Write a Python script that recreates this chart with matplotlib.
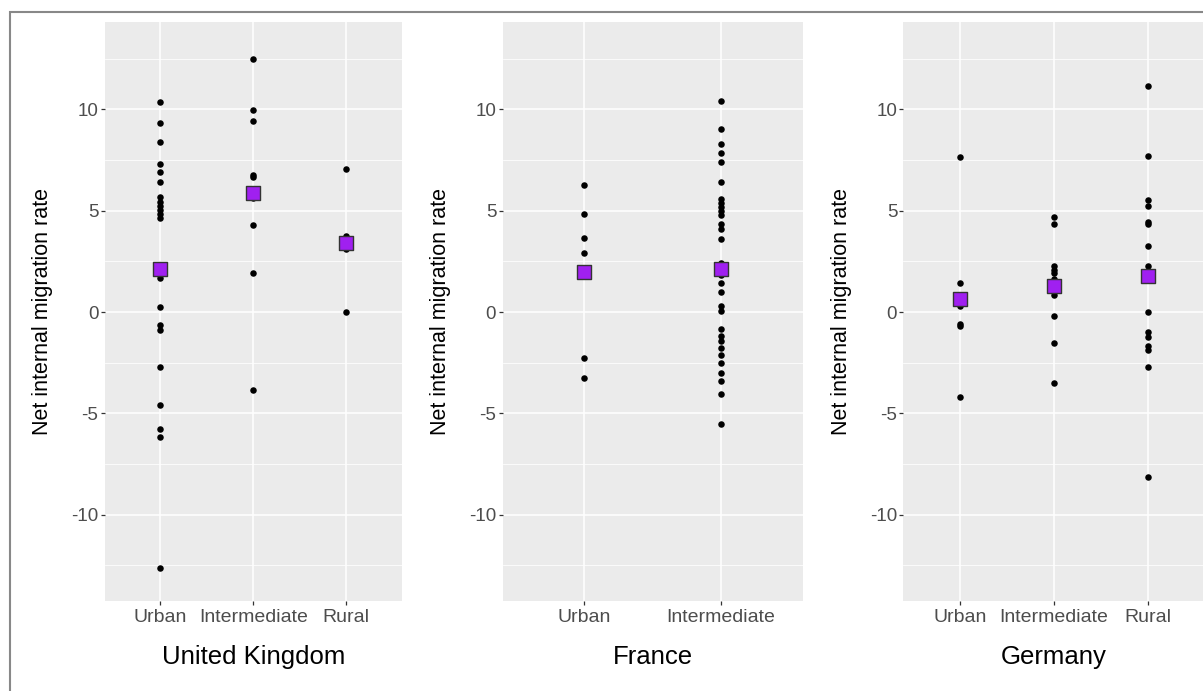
import numpy as np
import matplotlib.pyplot as plt
from matplotlib.patches import Rectangle

# values
uk_urban = [10.37, 9.32, 8.41, 7.32, 6.90, 6.40, 5.66, 5.45, 5.23, 5.04, 4.84, 4.64,
            1.66, 0.25, -0.64, -0.89, -2.72, -4.59, -5.78, -6.16, -12.66]
uk_intermediate = [12.49, 9.96, 9.42, 6.77, 6.68, 5.61, 4.30, 1.91, -3.85]
uk_rural = [7.05, 3.77, 3.10, 0.0]
fr_urban = [6.26, 4.84, 3.65, 2.91, -2.26, -3.26]
fr_intermediate = [10.42, 9.05, 8.28, 7.85, 7.41, 6.40, 5.56, 5.37, 5.17, 4.97, 4.78,
                   4.33, 4.08, 3.59, 2.40, 1.83, 1.42, 0.99, 0.30, 0.07, -0.82, -1.19,
                   -1.42, -1.79, -2.12, -2.53, -3.03, -3.41, -4.07, -5.55]
de_urban = [7.67, 1.45, 0.31, -0.60, -0.70, -4.22]
de_intermediate = [4.71, 4.35, 2.29, 2.07, 1.91, 1.63, 0.82, -0.18, -1.52, -3.49]
de_rural = [11.16, 7.72, 5.53, 5.25, 4.46, 4.35, 3.24, 2.29, 0.0, -1.0, -1.22,
            -1.66, -1.88, -2.72, -8.13]

uk_means = [2.12, 5.89, 3.39]
fr_means = [1.99, 2.11]
de_means = [0.66, 1.30, 1.79]

countries = ["United Kingdom", "France", "Germany"]
categories = [["Urban", "Intermediate", "Rural"],
              ["Urban", "Intermediate"],
              ["Urban", "Intermediate", "Rural"]]
series = [[uk_urban, uk_intermediate, uk_rural],
          [fr_urban, fr_intermediate],
          [de_urban, de_intermediate, de_rural]]
means = [uk_means, fr_means, de_means]

W, H = 1203, 691
plt.rcParams['font.family'] = ['Liberation Sans', 'DejaVu Sans']
plt.rcParams['axes.unicode_minus'] = False
fig = plt.figure(figsize=(W / 100, H / 100), dpi=100)

# panel positions in pixels (left, right)
panels = [(104.5, 402), (502.5, 803), (903.5, 1204)]
top, bottom = 22, 601

for i, (x0, x1) in enumerate(panels):
    ax = fig.add_axes([x0 / W, (H - bottom) / H, (x1 - x0) / W, (bottom - top) / H])
    ax.set_facecolor("#EBEBEB")
    for s in ax.spines.values():
        s.set_visible(False)

    cats = categories[i]
    for j, vals in enumerate(series[i]):
        ax.scatter(np.full(len(vals), j + 1), vals, s=22, color="black", zorder=3, linewidths=0)
    ax.scatter(np.arange(1, len(cats) + 1), means[i], marker="s", s=105,
               color="#A020F0", edgecolors="#333333", linewidths=1, zorder=4)

    ax.set_xlim(0.4, len(cats) + 0.6)
    ax.set_ylim(-14.27, 14.32)
    ax.set_xticks(np.arange(1, len(cats) + 1))
    ax.set_xticklabels(cats)
    ax.set_yticks([-10, -5, 0, 5, 10])
    ax.set_yticks([-12.5, -7.5, -2.5, 2.5, 7.5, 12.5], minor=True)
    ax.grid(which="major", color="white", linewidth=1.1)
    ax.grid(which="minor", axis="y", color="white", linewidth=0.55)
    ax.set_axisbelow(True)
    ax.tick_params(axis="both", which="major", colors="#333333", labelcolor="#4D4D4D",
                   labelsize=13.5, length=3, width=0.9)
    ax.tick_params(axis="x", pad=2.5, labelsize=14)
    ax.tick_params(axis="y", pad=1.5)
    ax.tick_params(which="minor", length=0)

    ax.set_ylabel("Net internal migration rate", fontsize=15.5, color="black")
    ax.yaxis.set_label_coords(-51.5 / (x1 - x0), 0.5)
    ax.set_xlabel(countries[i], fontsize=18.5, color="black")
    ax.xaxis.set_label_coords(0.5, -(657 - bottom) / (bottom - top))
    ax.xaxis.label.set_va("center")

# outer border
fig.patches.append(Rectangle((10 / W, -0.1), 1.2, 1 - 12 / H + 0.1, transform=fig.transFigure,
                             fill=False, edgecolor="#888888", linewidth=1.5))

fig.savefig("out.png", dpi=100)
